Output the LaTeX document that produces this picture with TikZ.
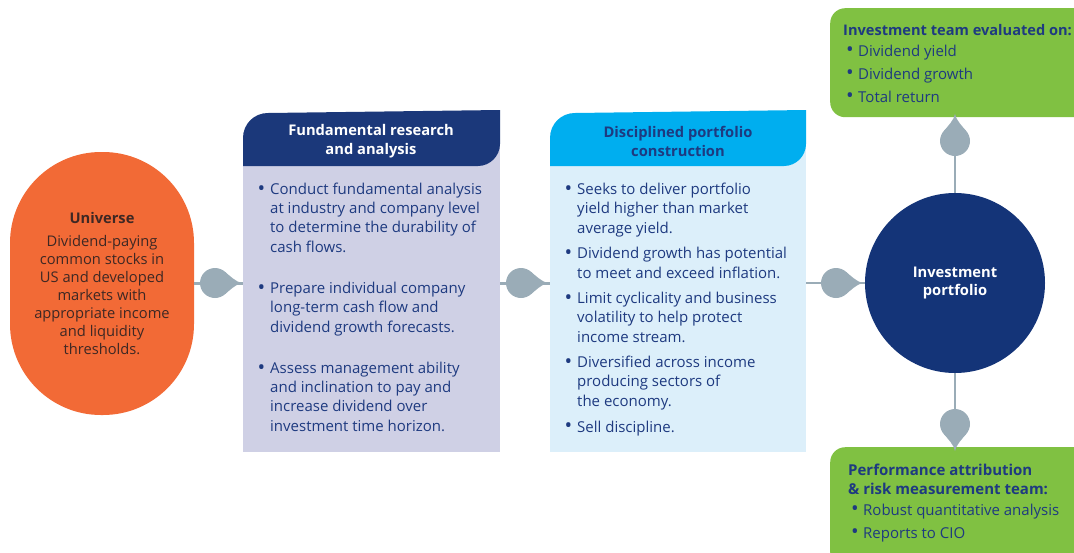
\documentclass[tikz,border=0pt]{standalone}
\usepackage{fontspec}
\setmainfont{Open Sans}
\usetikzlibrary{calc}

\definecolor{headnavy}{RGB}{27,56,122}
\definecolor{portnavy}{RGB}{20,52,120}
\definecolor{textnavy}{RGB}{30,58,128}
\definecolor{unired}{RGB}{242,106,54}
\definecolor{unitext}{RGB}{62,40,36}
\definecolor{lavender}{RGB}{207,208,229}
\definecolor{cyanhead}{RGB}{0,174,239}
\definecolor{paleblue}{RGB}{220,239,250}
\definecolor{leafgreen}{RGB}{128,193,66}
\definecolor{dropgrey}{RGB}{154,172,183}

\newcommand{\bigdot}{\raisebox{-0.6pt}{\scalebox{1.35}{\textbullet}}}
\newcommand{\dotitem}{\llap{\bigdot\hspace{5pt}}}
\newcommand{\greenbul}{\makebox[15pt][l]{\hspace{3pt}\bigdot}}

\tikzset{
  conn/.style={line width=2.5pt,color=dropgrey},
  drop/.pic={
    \fill[dropgrey] (0,0) circle[radius=15];
    \fill[dropgrey] (27,0) .. controls (21,1) and (15,7) .. (50:15) -- (310:15) .. controls (15,-7) and (21,-1) .. (27,0) -- cycle;
  },
  item/.style={anchor=base west,inner sep=0pt,align=left,text=textnavy,font=\fontsize{15}{19.2}\selectfont},
  greenitem/.style={anchor=base west,inner sep=0pt,align=left,text=textnavy,font=\fontsize{15}{23}\selectfont},
}

\begin{document}
\begin{tikzpicture}[x=1pt,y=-1pt]
\useasboundingbox (0,0) rectangle (1074,552);

\node[fill=unired,rounded corners=91pt,minimum width=184pt,minimum height=263pt,inner sep=0pt,
  text=unitext,align=center,font=\fontsize{14.7}{18}\selectfont] (uni) at (102,283.5)
  {{\bfseries Universe}\\[5pt]Dividend-paying\\common stocks in\\US and developed\\markets with\\appropriate income\\and liquidity\\thresholds.};

\node[fill=lavender,minimum width=257pt,minimum height=312pt,inner sep=0pt,anchor=north west] (fund) at (243,140) {};
\fill[headnavy] (243,166) -- (243,138) .. controls (243,124) and (254,113) .. (268,113) -- (500,110)
  -- (500,144) .. controls (500,156) and (490,166) .. (478,166) -- cycle;
\node[text=white,font=\bfseries\fontsize{14.7}{19}\selectfont,align=center] (fundhead) at (371,141) {Fundamental research\\and analysis};

\node[fill=paleblue,minimum width=256pt,minimum height=312pt,inner sep=0pt,anchor=north west] (disc) at (550,140) {};
\fill[cyanhead] (550,166) -- (550,138) .. controls (550,124) and (561,113) .. (575,113) -- (806,110)
  -- (806,144) .. controls (806,156) and (796,166) .. (784,166) -- cycle;
\node[text=textnavy,font=\bfseries\fontsize{14.7}{19}\selectfont,align=center] (dischead) at (678,141) {Disciplined portfolio\\construction};

\node[item] (fund1) at (270,252) {\dotitem Conduct fundamental analysis\\at industry and company level\\to determine the durability of\\cash flows.};
\node[item] (fund2) at (270,332) {\dotitem Prepare individual company\\long-term cash flow and\\dividend growth forecasts.};
\node[item] (fund3) at (270,431) {\dotitem Assess management ability\\and inclination to pay and\\increase dividend over\\investment time horizon.};

\node[item] (disc1) at (577,233) {\dotitem Seeks to deliver portfolio\\yield higher than market\\average yield.};
\node[item] (disc2) at (577,278) {\dotitem Dividend growth has potential\\to meet and exceed inflation.};
\node[item] (disc3) at (577,342) {\dotitem Limit cyclicality and business\\volatility to help protect\\income stream.};
\node[item] (disc4) at (577,406) {\dotitem Diversified across income\\producing sectors of\\the economy.};
\node[item] (disc5) at (577,432) {\dotitem Sell discipline.};

\node[circle,fill=portnavy,minimum size=180pt,inner sep=0pt,text=white,align=center,
  font=\bfseries\fontsize{14.7}{18}\selectfont] (port) at (955,283) {Investment\\portfolio};

\node[fill=leafgreen,rounded corners=15pt,minimum width=262pt,minimum height=109pt,inner sep=0pt,anchor=north west] (topg) at (830,8) {};
\node[greenitem] (topgtext) at (843,102) {{\bfseries\fontsize{14.6}{23}\selectfont Investment team evaluated on:}\\[-2pt]
  \greenbul Dividend yield\\\greenbul Dividend growth\\\greenbul Total return};

\node[fill=leafgreen,rounded corners=15pt,minimum width=262pt,minimum height=120pt,inner sep=0pt,anchor=north west] (botg) at (830,447) {};
\node[greenitem] (botgtext) at (848,538) {{\bfseries Performance attribution}\\[-4pt]{\bfseries \& risk measurement team:}\\[-2pt]
  \greenbul Robust quantitative analysis\\\greenbul Reports to CIO};

\draw[conn] (uni.east) -- (uni.east -| fund.west);
\draw[conn] (fund.east |- uni.east) -- (disc.west |- uni.east);
\draw[conn] (disc.east |- port.west) -- (port.west);
\draw[conn] (port.north) -- (topg.south -| port.north);
\draw[conn] (port.south) -- (botg.north -| port.south);

\pic at (215,283) {drop};
\pic at (521,283) {drop};
\pic at (836,283) {drop};
\pic[rotate=90] at (955,141) {drop};
\pic[rotate=-90] at (955,424) {drop};

\end{tikzpicture}
\end{document}
